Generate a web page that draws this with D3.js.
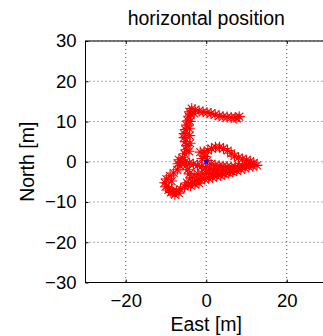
<!DOCTYPE html>
<html lang="en">
<head>
<meta charset="UTF-8">
<title>horizontal position</title>
<script src="https://cdn.jsdelivr.net/npm/d3@7"></script>
<style>
  body { margin: 0; background: #fff; }
  svg { display: block; font-family: "Liberation Sans", Arial, sans-serif; }
  .axis path { display: none; }
  .axis line { stroke: #000; }
  .axis text { fill: #000; font-size: 18.5px; }
</style>
</head>
<body>
<svg width="323" height="336"></svg>
<script>
// trajectory (metres)
var east = [8.2, 7.6, 7.2, 6.2, 5.2, 4.2, 3.2, 2.2, 1.2, 0.2, -0.8, -1.8, -2.8, -3.6,
  -4.2, -4.4, -4.6, -4.9, -5.2, -5.5, -5.5, -5.2, -4.9, -5.0, -5.4, -5.9, -6.3, -6.5,
  -7.2, -8.1, -9.0, -9.9, -10.3, -10.1, -9.4, -8.4, -7.4, -6.4, -5.4, -4.4, -3.4,
  -2.4, -1.4, -0.4, 0.6, 1.6, 2.6, 3.6, 4.6, 5.6, 6.6, 7.6, 8.6, 9.6, 10.6, 11.6, 12.6,
  11.8, 10.9, 10.0, 9.0, 8.0, 7.0, 6.2, 5.3, 4.3, 3.3, 2.3, 1.3, 0.4, -0.5, -1.5,
  -0.3, 0.3, 1.2, 2.2, 3.2, 4.2, 5.2, 6.2, 7.2, 8.2,
  7.8, 6.8, 5.8, 4.8, 3.8, 2.8, 1.8, 0.8, -0.2, -1.2, -2.2, -3.2, -4.2, -5.2,
  -6.8, -7.0, -5.0, -4.6, -4.2, -3.8,
  -3.0, -2.0, -1.0, 0.0, 1.0, 2.0, 3.0, 4.0, 5.0, 6.0, 7.0, 8.0, 9.0, 10.0, 11.0,
  -3.9, -4.0, -4.2, -4.1, -4.0, -4.3, -3.0,
  -8.6, -9.2, -8.8, -7.8, -6.8, -4.8, -3.9, -2.8, -1.8, -1.0];
var north = [11.2, 10.8, 11.0, 11.0, 11.1, 11.2, 11.4, 11.7, 12.0, 12.2, 12.4, 12.6, 12.9, 13.2,
  12.4, 11.3, 10.2, 9.1, 8.0, 7.0, 6.0, 5.0, 4.0, 3.0, 2.0, 1.0, 0.0, -1.0,
  -2.0, -2.8, -3.5, -4.3, -5.2, -6.2, -7.0, -7.5, -7.3, -6.8, -6.2, -5.6, -5.1,
  -4.7, -4.5, -4.3, -4.1, -3.9, -3.6, -3.4, -3.1, -2.8, -2.5, -2.2, -1.9, -1.6, -1.3, -1.1, -0.9,
  -0.3, 0.1, 0.4, 0.7, 1.0, 1.4, 2.1, 2.8, 3.3, 3.6, 3.6, 3.3, 2.8, 2.4, 2.4,
  1.3, 0.3, -0.6, -0.9, -1.0, -1.1, -1.2, -1.3, -1.3, -1.1,
  -1.6, -2.0, -2.2, -2.2, -2.2, -2.1, -2.0, -1.8, -1.5, -1.2, -0.9, -0.6, -0.3, 0.0,
  0.5, -0.5, -1.0, -2.0, -3.0, -4.0,
  -3.3, -3.1, -3.0, -2.9, -3.0, -3.1, -3.0, -2.8, -2.6, -2.3, -1.9, -1.5, -1.0, -0.6, -0.5,
  11.8, 10.0, 8.2, 6.5, 4.6, 2.6, 12.0,
  -4.8, -6.5, -7.6, -8.2, -7.8, -5.2, -5.9, -5.6, -5.3, 0.8];
var origin = { east: 0, north: 0 };
var xTicks = [-20, 0, 20];
var yTicks = [-30, -20, -10, 0, 10, 20, 30];

var svg = d3.select("svg");
var plotLeft = 85.5, plotTop = 41, plotSize = 241.5;

var x = d3.scaleLinear().domain([-30, 30]).range([plotLeft, plotLeft + plotSize]);
var y = d3.scaleLinear().domain([-30, 30]).range([plotTop + plotSize, plotTop]);

var g = svg.append("g");

// dotted grid
g.selectAll(".gx").data(xTicks).enter().append("line")
  .attr("x1", function (d) { return x(d); }).attr("x2", function (d) { return x(d); })
  .attr("y1", plotTop).attr("y2", plotTop + plotSize)
  .attr("stroke", "#555").attr("stroke-dasharray", "1,3");
g.selectAll(".gy").data(yTicks).enter().append("line")
  .attr("x1", plotLeft).attr("x2", plotLeft + plotSize)
  .attr("y1", function (d) { return y(d); }).attr("y2", function (d) { return y(d); })
  .attr("stroke", "#555").attr("stroke-dasharray", "1,3");

// axes (ticks pointing inward, matlab style)
g.append("g").attr("class", "axis")
  .attr("transform", "translate(0," + (plotTop + plotSize) + ")")
  .call(d3.axisBottom(x).tickValues(xTicks).tickSize(-3).tickPadding(11));
g.append("g").attr("class", "axis")
  .attr("transform", "translate(0," + plotTop + ")")
  .call(d3.axisTop(x).tickValues(xTicks).tickSize(-3).tickFormat(""));
g.append("g").attr("class", "axis")
  .attr("transform", "translate(" + plotLeft + ",0)")
  .call(d3.axisLeft(y).tickValues(yTicks).tickSize(-3).tickPadding(9));

// box
g.append("rect")
  .attr("x", plotLeft).attr("y", plotTop).attr("width", plotSize).attr("height", plotSize)
  .attr("fill", "none").attr("stroke", "#000").attr("stroke-width", 1);

// asterisk markers
var r = 5.5, a = r * 0.72;
var star = "M" + (-r) + ",0L" + r + ",0M0," + (-r) + "L0," + r +
  "M" + (-a) + "," + (-a) + "L" + a + "," + a + "M" + (-a) + "," + a + "L" + a + "," + (-a);

g.selectAll(".pt").data(east).enter().append("path")
  .attr("d", star)
  .attr("transform", function (d, i) { return "translate(" + x(d) + "," + y(north[i]) + ")"; })
  .attr("fill", "none").attr("stroke", "#ff0000").attr("stroke-width", 1.1);

g.append("rect")
  .attr("x", x(origin.east) - 2).attr("y", y(origin.north) - 2)
  .attr("width", 4).attr("height", 4).attr("fill", "#0000ff");

// labels
svg.append("text").attr("x", x(0)).attr("y", 25).attr("text-anchor", "middle")
  .style("font-size", "19.5px").text("horizontal position");
svg.append("text").attr("x", x(0)).attr("y", 331).attr("text-anchor", "middle")
  .style("font-size", "19.5px").text("East [m]");
svg.append("text").attr("transform", "translate(34," + y(0) + ") rotate(-90)")
  .attr("text-anchor", "middle").style("font-size", "19.5px").text("North [m]");
</script>
</body>
</html>
